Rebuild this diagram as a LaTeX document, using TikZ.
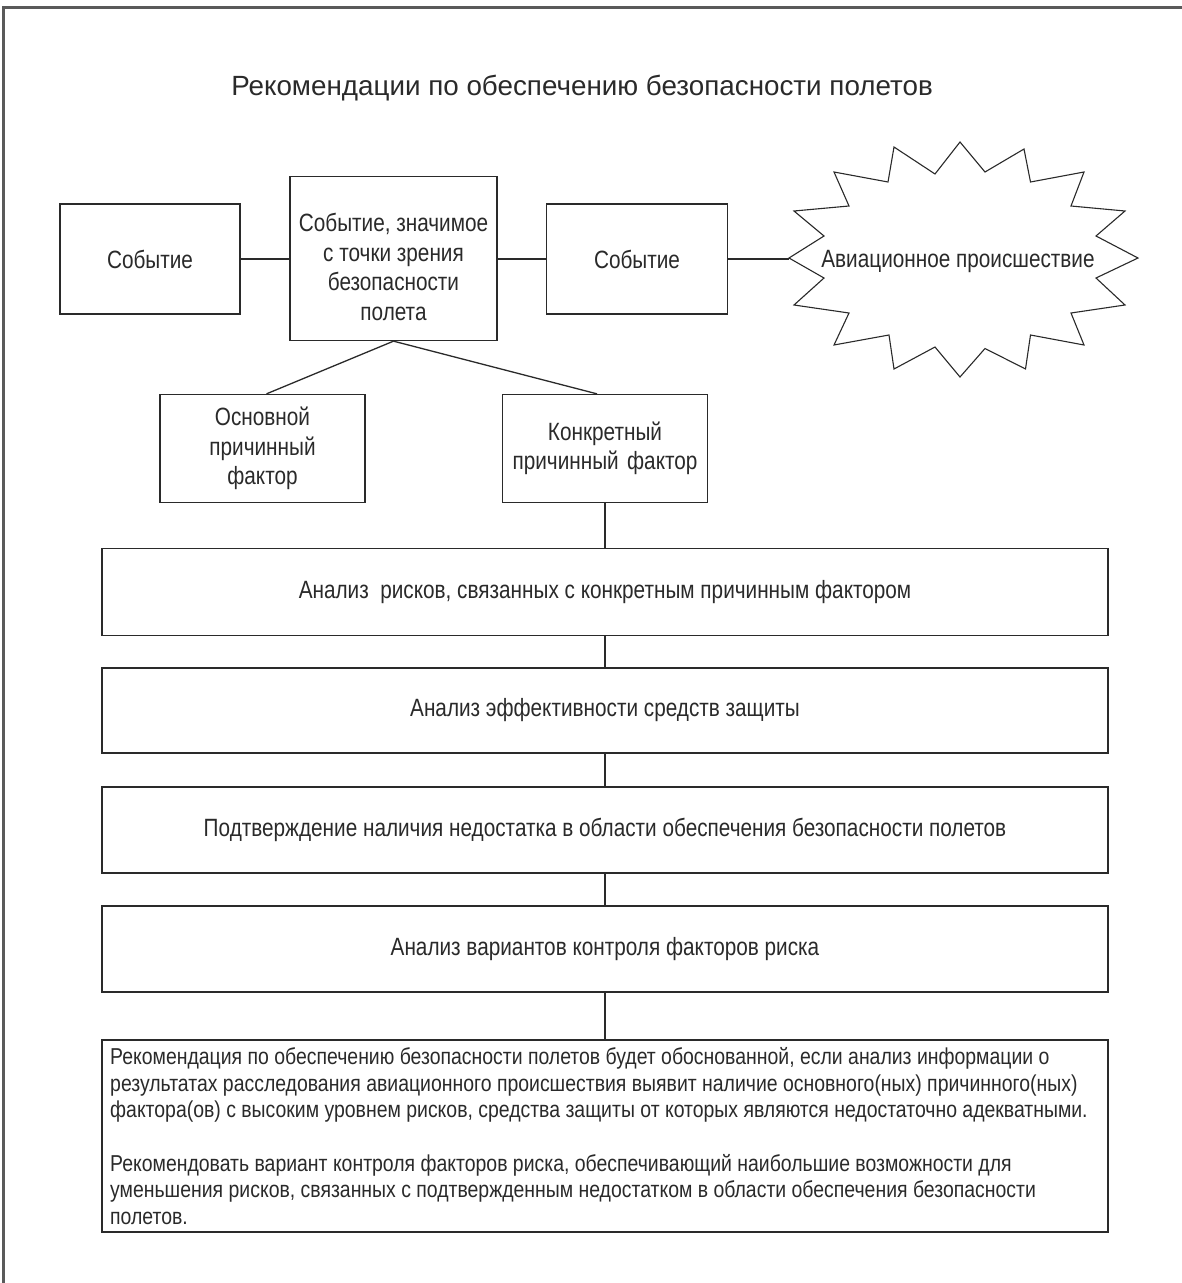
\documentclass[tikz,border=0pt]{standalone}
\usepackage{fontspec}
\setmainfont{Liberation Sans}
\newfontfamily\narrowfont[FakeStretch=0.83]{Liberation Sans}
\newfontfamily\recfont[FakeStretch=0.845]{Liberation Sans}
\definecolor{ink}{HTML}{2A2A2A}
\definecolor{frame}{HTML}{5A5A5A}
\begin{document}
\begin{tikzpicture}[x=1pt,y=-1pt,
  box/.style={draw=ink, line width=1.3pt, inner sep=2pt, align=center, text=ink,
    font=\narrowfont\fontsize{25}{29.5}\selectfont},
  label text/.style={text=ink, align=center, inner sep=0pt, font=\narrowfont\fontsize{25}{29.5}\selectfont},
  bigbox/.style={box, minimum width=1006pt},
  conn/.style={draw=ink, line width=1.3pt}]
\useasboundingbox (0,0) rectangle (1182,1283);
% page frame
\draw[frame, line width=3pt] (3,1283) -- (3,7) -- (1182,7);
% title
\node[text=ink, font=\fontsize{27.8}{32}\selectfont] (title) at (582,88) {Рекомендации по обеспечению безопасности полетов};
% top row
\node[box, minimum width=180pt, minimum height=110pt] (ev1) at (150,259) {Событие};
\node[box, minimum width=207pt, minimum height=164pt] (sig) at (393.5,258.5) {};
\node[label text] (sigtext) at (393.5,267) {Событие, значимое\\с точки зрения\\безопасности\\полета};
\node[box, minimum width=181pt, minimum height=110pt] (ev2) at (637,259) {Событие};
% star (accident)
\draw[ink, line width=1.1pt, fill=white]
 (960,142) -- (985,172) -- (1024,149) -- (1030.5,182) -- (1084,172) -- (1071,206) -- (1125,211) -- (1096,236)
 -- (1138,258) -- (1096,278) -- (1125,305) -- (1071,313) -- (1084,345) -- (1030.5,335) -- (1025.5,369) -- (985,348.5)
 -- (960,377) -- (935,347) -- (894,369) -- (889,335) -- (834,345) -- (849,313) -- (794,305) -- (824,278)
 -- (789,258) -- (824,236) -- (794,211) -- (849,206) -- (834,172) -- (888,182) -- (894,147) -- (935,174) -- cycle;
\coordinate (starL) at (789,258);
\node[label text] (acc) at (958,261) {Авиационное происшествие};
% factor boxes
\node[box, minimum width=205pt, minimum height=108pt, text width=196pt] (basic) at (262.5,448.5) {Основной\\причинный\\фактор};
\node[box, minimum width=205pt, minimum height=108pt, text width=196pt] (spec) at (605,448.5) {Конкретный\\причинный фактор};
% analysis chain
\node[bigbox, minimum height=87pt] (a1) at (605,592) {Анализ\ \ рисков, связанных с конкретным причинным фактором};
\node[bigbox, minimum height=85pt] (a2) at (605,710.5) {Анализ эффективности средств защиты};
\node[bigbox, minimum height=86pt] (a3) at (605,830) {Подтверждение наличия недостатка в области обеспечения безопасности полетов};
\node[bigbox, minimum height=86pt] (a4) at (605,949) {Анализ вариантов контроля факторов риска};
\node[box, minimum width=1006pt, minimum height=192pt] (rec) at (605,1136) {};
\node[anchor=north west, align=left, inner sep=0pt, text=ink,
  font=\recfont\fontsize{23}{26.6}\selectfont] (rectext) at (110,1047.5)
 {Рекомендация по обеспечению безопасности полетов будет обоснованной, если анализ информации о\\
  результатах расследования авиационного происшествия выявит наличие основного(ных) причинного(ных)\\
  фактора(ов) с высоким уровнем рисков, средства защиты от которых являются недостаточно адекватными.\\[26.6pt]
  Рекомендовать вариант контроля факторов риска, обеспечивающий наибольшие возможности для\\
  уменьшения рисков, связанных с подтвержденным недостатком в области обеспечения безопасности\\
  полетов.};
% connectors
\draw[conn] (ev1.east) -- (ev1.east -| sig.west);
\draw[conn] (sig.east |- ev2.west) -- (ev2.west);
\draw[conn] (ev2.east) -- (ev2.east -| starL);
\draw[conn] (sig.south) -- ([xshift=4pt]basic.north);
\draw[conn] (sig.south) -- ([xshift=-8pt]spec.north);
\draw[conn] (spec.south) -- (spec.south |- a1.north);
\draw[conn] (a1.south -| spec.south) -- (a2.north -| spec.south);
\draw[conn] (a2.south -| spec.south) -- (a3.north -| spec.south);
\draw[conn] (a3.south -| spec.south) -- (a4.north -| spec.south);
\draw[conn] (a4.south -| spec.south) -- (rec.north -| spec.south);
\end{tikzpicture}
\end{document}
